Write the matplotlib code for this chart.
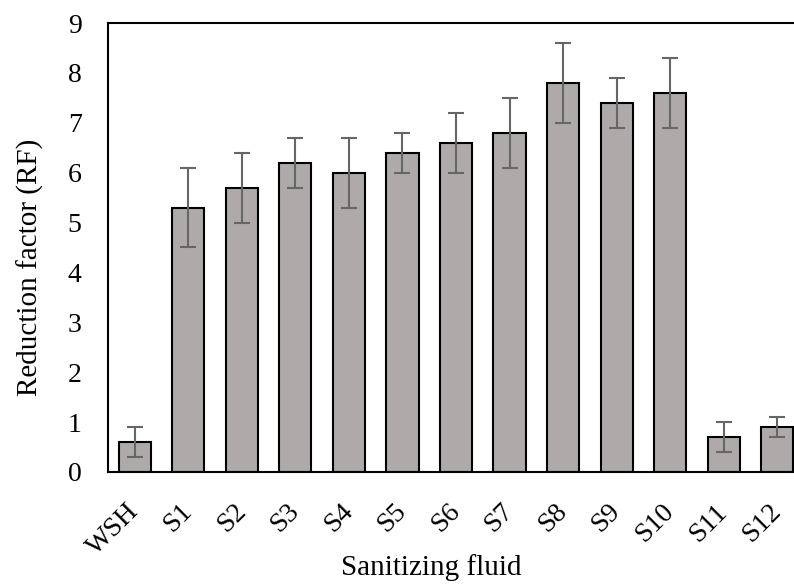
import matplotlib
matplotlib.use("Agg")
import matplotlib.pyplot as plt
import numpy as np

categories = ["WSH", "S1", "S2", "S3", "S4", "S5", "S6", "S7", "S8", "S9", "S10", "S11", "S12"]
rf_values = [0.6, 5.3, 5.7, 6.2, 6.0, 6.4, 6.6, 6.8, 7.8, 7.4, 7.6, 0.7, 0.9]
rf_errors = [0.3, 0.8, 0.7, 0.5, 0.7, 0.4, 0.6, 0.7, 0.8, 0.5, 0.7, 0.3, 0.2]
y_ticks = [0, 1, 2, 3, 4, 5, 6, 7, 8, 9]

plt.rcParams['font.family'] = ['Liberation Serif', 'DejaVu Serif']

fig = plt.figure(figsize=(7.94, 5.84), dpi=100)
ax = fig.add_axes([0.136, 0.1918, 0.8766, 0.7688])
x = np.arange(len(categories))
ax.bar(x, rf_values, width=0.6, color="#AEAAAA", edgecolor="black", linewidth=1.5, zorder=2)
ax.errorbar(x, rf_values, yerr=rf_errors, fmt="none", ecolor="#666666", elinewidth=1.5,
            capsize=5.5, capthick=1.5, zorder=3)

ax.set_xlim(-0.5, len(categories) - 0.5)
ax.set_ylim(0, 9)
ax.set_yticks(y_ticks)
ax.set_xticks(x)
ax.set_xticklabels(categories, rotation=45, ha="right", va="center", rotation_mode="anchor")
ax.tick_params(axis="both", length=0, labelsize=20)
ax.tick_params(axis="y", pad=19)
ax.tick_params(axis="x", pad=26)
for s in ["left", "top", "bottom", "right"]:
    ax.spines[s].set_linewidth(1.5)
    ax.spines[s].set_color("black")
ax.set_ylabel("Reduction factor (RF)", fontsize=21)
ax.yaxis.set_label_coords(-0.092, 0.455)
ax.set_xlabel("Sanitizing fluid", fontsize=21, va="center")
ax.xaxis.set_label_coords(0.464, -0.212)

fig.savefig("out.png", dpi=100)
